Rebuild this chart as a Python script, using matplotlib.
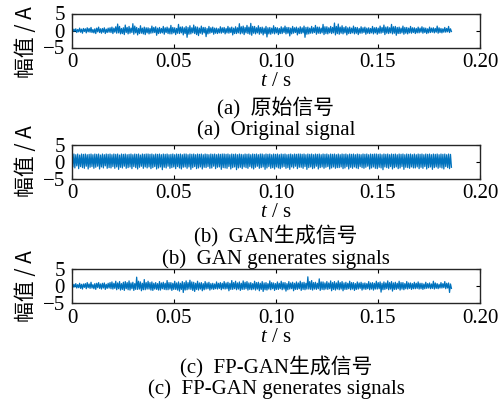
import numpy as np
import matplotlib
matplotlib.use("Agg")
import matplotlib.pyplot as plt

plt.rcParams['font.family'] = ['Liberation Serif', 'Noto Sans CJK SC']
plt.rcParams['mathtext.fontset'] = 'custom'
plt.rcParams['mathtext.it'] = 'Liberation Serif:italic'
plt.rcParams['mathtext.rm'] = 'Liberation Serif'
plt.rcParams['axes.unicode_minus'] = True

duration = 0.186
xticks = [0, 0.05, 0.10, 0.15, 0.20]
xticklabels = ['0', '0.05', '0.10', '0.15', '0.20']
yticks = [-5, 0, 5]
yticklabels = ['\u22125', '0', '5']
ylabel = '幅值 / A'
xlabel = r'$t$ / s'
captions_cn = ['(a)  原始信号', '(b)  GAN生成信号', '(c)  FP-GAN生成信号']
captions_en = ['(a)  Original signal', '(b)  GAN generates signals', '(c)  FP-GAN generates signals']

original = [
    0.1,-0.3,0.4,-0.2,0.5,-0.6,0.3,-0.4,0.7,-0.5,0.4,-0.8,0.6,-0.3,0.5,-0.7,0.8,-0.4,0.6,-0.5,0.9,-0.6,0.3,-0.7,0.5,-0.9,0.7,-0.4,1.0,-0.6,0.5,-0.8,0.6,-0.5,0.8,-0.9,0.4,-0.6,0.7,-0.5,
    0.8,-0.6,1.0,-0.9,0.7,-0.5,1.1,-0.8,1.9,-0.7,1.2,-1.0,0.6,-0.9,0.8,-1.2,1.6,-0.6,0.9,-1.0,1.2,-0.8,0.7,-0.6,2.0,-1.1,1.3,-0.7,0.9,-1.3,0.6,-0.9,1.4,-0.8,0.7,-1.0,1.0,-1.2,0.8,-0.7,
    0.8,-1.0,0.6,-0.8,1.3,-0.7,0.9,-0.6,1.1,-1.4,0.7,-0.9,0.9,-0.8,0.6,-0.7,1.2,-1.1,0.8,-0.6,1.0,-0.9,0.7,-1.0,1.5,-1.0,0.9,-0.7,0.8,-1.2,0.6,-0.8,1.8,-0.9,1.0,-0.7,1.1,-1.3,0.8,-0.9,
    1.2,-2.0,0.9,-1.1,1.4,-1.0,0.8,-0.7,1.6,-0.9,1.1,-1.2,1.0,-1.5,0.7,-0.8,1.3,-1.1,0.9,-0.7,0.9,-1.8,0.6,-1.0,1.2,-0.8,0.8,-0.6,1.0,-1.1,0.7,-0.8,0.7,-0.9,0.5,-0.7,1.1,-0.8,0.8,-0.6,
    0.9,-1.0,0.6,-0.7,1.2,-0.8,0.8,-0.6,1.0,-1.3,0.7,-0.9,1.1,-0.9,0.8,-0.7,2.0,-1.0,1.1,-0.8,1.3,-1.2,0.9,-0.7,1.5,-0.9,1.0,-1.1,2.1,-1.4,1.2,-0.8,1.2,-1.0,0.8,-0.7,1.4,-1.1,0.9,-0.8,
    1.0,-1.3,0.7,-0.9,1.2,-1.9,0.8,-1.0,0.9,-1.1,0.7,-0.8,1.4,-1.0,0.9,-0.7,0.8,-1.2,0.6,-0.9,1.1,-0.9,0.8,-0.6,1.3,-1.0,0.9,-0.8,0.9,-1.6,0.7,-1.0,1.2,-0.8,0.8,-0.6,1.0,-1.3,0.7,-0.9,
    1.1,-0.9,0.8,-0.7,1.3,-2.0,0.9,-1.1,1.0,-1.0,0.7,-0.8,1.2,-0.8,0.8,-0.6,1.5,-1.1,1.0,-0.8,1.0,-0.9,0.7,-0.7,1.8,-1.2,1.1,-0.9,1.1,-1.0,0.8,-0.7,1.2,-0.9,0.9,-0.7,2.2,-1.3,1.2,-0.9,
    1.9,-1.1,1.0,-0.8,1.4,-1.0,0.9,-0.7,1.2,-1.3,0.8,-0.9,1.0,-0.9,0.7,-0.7,1.3,-1.0,0.9,-0.8,0.9,-1.2,0.6,-0.8,1.1,-0.8,0.8,-0.6,1.0,-1.1,0.7,-0.8,0.8,-0.9,0.6,-0.7,1.2,-1.0,0.8,-0.7,
    0.9,-1.1,0.7,-0.8,1.3,-0.8,0.9,-0.6,1.6,-1.2,1.0,-0.8,1.1,-0.9,0.8,-0.7,1.8,-1.0,1.1,-0.8,1.2,-1.4,0.9,-0.9,1.0,-0.9,0.7,-0.7,1.3,-1.1,0.9,-0.8,0.9,-1.0,0.7,-0.7,1.2,-0.8,0.8,-0.6,
    0.8,-0.9,0.6,-0.7,1.0,-0.7,0.7,-0.5,1.1,-0.8,0.8,-0.6,0.7,-0.9,0.5,-0.7,1.0,-0.6,0.7,-0.5,0.8,-0.7,0.6,-0.5,1.3,-0.8,0.8,-0.6,0.6,-0.7,0.5,-0.5,0.9,-0.5,0.6,-0.4,1.2,-0.6,0.5,-0.3,
]

gan = [
    2.1,-1.6,2.2,-1.9,2.0,-1.3,2.2,-2.1,1.9,-1.5,2.2,-1.8,2.1,-2.0,2.2,-1.4,2.0,-2.2,2.1,-1.7,2.2,-1.5,2.0,-2.0,2.2,-1.7,2.1,-1.4,2.2,-2.2,1.9,-1.6,2.2,-1.9,2.0,-1.3,2.2,-2.0,2.1,-1.8,
    2.2,-1.9,2.0,-1.5,2.2,-2.0,2.1,-1.6,2.2,-2.3,1.9,-1.7,2.2,-1.9,2.1,-1.4,2.2,-2.0,2.0,-1.8,2.1,-1.6,2.2,-2.1,2.0,-1.5,2.2,-1.8,2.1,-2.2,2.2,-1.7,1.9,-1.4,2.2,-2.0,2.1,-1.6,2.2,-1.9,
    2.2,-1.6,2.1,-2.1,2.2,-1.8,2.0,-1.5,2.2,-2.2,2.1,-1.9,2.2,-1.6,2.0,-2.4,2.2,-1.7,2.1,-1.9,2.2,-1.4,2.0,-2.0,2.1,-1.8,2.2,-1.6,2.0,-2.1,2.2,-1.5,2.1,-1.9,2.2,-2.2,2.0,-1.7,2.2,-1.6,
    2.2,-2.0,2.0,-1.6,2.2,-2.3,2.1,-1.8,2.2,-1.5,2.0,-2.1,2.2,-1.9,2.1,-1.6,2.2,-2.2,2.0,-1.7,2.2,-1.8,2.1,-1.5,2.0,-2.0,2.2,-1.9,2.1,-1.4,2.2,-2.1,2.0,-1.7,2.2,-1.6,2.1,-2.3,2.2,-1.8,
    2.2,-1.9,2.1,-2.0,2.2,-1.5,2.0,-2.2,2.2,-1.8,2.1,-1.6,2.2,-2.4,2.0,-1.9,2.2,-1.7,2.1,-2.1,2.0,-1.6,2.2,-1.8,2.1,-2.0,2.2,-1.5,2.0,-1.9,2.2,-2.2,2.1,-1.7,2.2,-1.4,2.0,-2.0,2.2,-1.8,
    2.2,-1.6,2.0,-2.3,2.2,-1.9,2.1,-1.5,2.2,-2.0,2.0,-1.8,2.2,-2.2,2.1,-1.6,2.2,-1.9,2.0,-2.1,2.2,-1.7,2.1,-1.5,2.2,-2.0,2.0,-1.8,2.1,-2.3,2.2,-1.6,2.0,-1.9,2.2,-1.4,2.1,-2.1,2.2,-1.7,
    2.2,-1.7,2.1,-2.0,2.2,-1.5,2.0,-2.3,2.2,-1.8,2.1,-1.6,2.2,-2.1,2.0,-1.9,2.2,-1.4,2.1,-2.2,2.2,-1.8,2.0,-1.6,2.2,-2.0,2.1,-1.7,2.2,-1.5,2.0,-2.2,2.2,-1.9,2.1,-1.6,2.2,-2.0,2.0,-1.8,
    2.2,-1.8,2.0,-1.6,2.2,-2.1,2.1,-1.9,2.2,-1.5,2.0,-2.2,2.2,-1.7,2.1,-2.0,2.2,-1.6,2.0,-1.9,2.2,-2.1,2.1,-1.5,2.0,-1.8,2.2,-2.0,2.1,-1.7,2.2,-1.4,2.0,-2.2,2.2,-1.9,2.1,-1.6,2.2,-2.0,
    2.2,-2.1,2.1,-1.7,2.2,-1.9,2.0,-2.4,2.2,-1.6,2.1,-1.8,2.2,-2.0,2.0,-1.5,2.2,-2.2,2.1,-1.8,2.2,-1.6,2.0,-2.1,2.2,-1.9,2.1,-1.5,2.2,-2.3,2.0,-1.7,2.2,-1.8,2.1,-2.0,2.2,-1.6,2.0,-1.9,
    2.2,-1.9,2.0,-1.6,2.2,-2.1,2.1,-1.7,2.2,-2.0,2.0,-1.5,2.2,-2.2,2.1,-1.8,2.2,-1.6,2.0,-2.3,2.2,-1.8,2.1,-1.6,2.2,-2.0,2.0,-1.7,2.2,-1.9,2.1,-2.2,2.2,-1.5,2.0,-1.8,2.2,-2.1,2.1,-1.7,
]

fpgan = [
    0.2,-0.4,0.5,-0.3,0.7,-0.6,0.4,-0.5,0.8,-0.7,0.5,-0.9,0.6,-0.4,0.7,-0.8,1.0,-0.5,0.6,-0.7,1.1,-0.6,0.4,-0.8,0.7,-1.0,0.8,-0.5,1.0,-0.7,0.6,-0.9,0.8,-0.6,0.9,-1.0,0.5,-0.7,0.8,-0.6,
    1.0,-0.8,1.2,-0.9,0.8,-0.7,1.4,-1.1,0.9,-0.8,1.3,-1.2,0.7,-1.0,1.1,-1.3,1.3,-0.8,1.0,-1.1,1.5,-1.2,0.9,-0.8,1.1,-1.3,0.7,-1.0,2.6,-1.0,1.4,-0.9,1.2,-1.4,0.8,-1.1,1.9,-1.1,1.0,-0.9,
    1.4,-0.9,1.0,-1.2,1.2,-1.3,0.8,-0.9,1.0,-1.0,0.7,-1.2,1.3,-1.2,0.9,-0.8,1.1,-1.0,0.8,-1.1,1.6,-1.1,1.0,-0.9,1.0,-1.3,0.8,-1.0,1.4,-1.0,0.9,-1.2,1.2,-1.5,0.8,-1.0,1.3,-1.9,1.0,-1.2,
    1.5,-1.1,1.0,-0.9,1.7,-1.0,1.2,-1.3,1.1,-1.6,0.8,-1.0,1.4,-1.2,0.9,-0.9,1.0,-1.4,0.7,-1.1,1.3,-0.9,0.9,-0.8,1.1,-1.2,0.7,-0.9,0.8,-1.0,0.6,-0.8,1.2,-0.9,0.8,-0.7,1.0,-1.1,0.8,-0.8,
    1.3,-0.9,0.9,-0.8,1.1,-1.4,0.8,-1.0,1.6,-1.0,1.0,-0.8,1.4,-1.1,0.9,-0.9,1.2,-1.3,0.8,-1.0,1.5,-1.0,1.1,-0.8,1.3,-1.2,0.9,-1.0,1.0,-1.1,0.7,-0.9,1.4,-1.2,1.0,-0.9,1.1,-1.4,0.8,-1.0,
    1.3,-1.6,0.9,-1.1,1.0,-1.2,0.7,-0.9,1.5,-1.1,1.0,-0.8,0.9,-1.3,0.7,-1.0,1.2,-1.0,0.8,-0.8,1.4,-1.1,1.0,-0.9,1.0,-1.5,0.7,-1.1,1.3,-0.9,0.9,-0.8,1.1,-1.4,0.8,-1.0,1.2,-1.0,0.9,-0.8,
    1.4,-1.3,1.0,-1.0,1.1,-1.1,0.8,-0.9,2.7,-0.9,1.3,-1.0,1.6,-1.2,1.0,-0.9,1.1,-1.0,0.8,-0.8,2.1,-1.3,1.2,-1.0,1.2,-1.1,0.9,-0.9,1.3,-1.0,0.9,-0.8,1.5,-1.4,1.0,-1.0,1.3,-1.2,0.9,-0.9,
    1.5,-1.1,1.0,-0.9,1.3,-1.4,0.9,-1.0,1.1,-1.0,0.8,-0.8,1.4,-1.1,1.0,-0.9,1.0,-1.3,0.7,-1.0,1.2,-0.9,0.9,-0.7,1.1,-1.2,0.8,-0.9,0.9,-1.0,0.7,-0.8,1.3,-1.1,0.9,-0.9,1.0,-1.2,0.8,-0.9,
    1.4,-0.9,1.0,-0.8,1.2,-1.8,0.8,-1.1,1.2,-1.0,0.9,-0.8,1.5,-1.1,1.0,-0.9,1.3,-1.5,0.9,-1.0,1.1,-1.0,0.8,-0.8,1.4,-1.2,1.0,-0.9,1.0,-1.1,0.7,-0.8,1.3,-0.9,0.9,-0.7,0.9,-1.0,0.7,-0.8,
    1.1,-0.8,0.8,-0.7,1.2,-0.9,0.8,-0.8,0.8,-1.0,0.6,-0.8,1.1,-0.7,0.7,-0.6,0.9,-0.8,0.6,-0.7,1.4,-0.9,0.9,-0.7,0.7,-0.8,0.5,-0.6,1.0,-0.6,0.7,-0.5,1.3,-0.8,0.8,-0.6,0.9,-1.9,0.6,-0.7,
]

signals = [original, gan, fpgan]

W, H = 499, 404
fig = plt.figure(figsize=(W / 100, H / 100), dpi=100)

# axes boxes in pixels: (left, top, right, bottom)
boxes = [(72, 13.5, 480, 47.5), (72, 144.5, 480, 178.5), (72, 269, 480, 303)]
ylabel_y = [0.17, 0.5, 0.5]
cn_y = [108, 236, 367]
en_y = [130, 259, 389]

color = '#0072BD'
fs = 15

for i, (sig, box) in enumerate(zip(signals, boxes)):
    l, t, r, b = box
    ax = fig.add_axes([l / W, 1 - b / H, (r - l) / W, (b - t) / H])
    y = np.array(sig)
    x = np.linspace(0, duration, len(y))
    ax.plot(x, y, color=color, lw=0.9)
    ax.set_xlim(0, 0.2)
    ax.set_ylim(-5, 5)
    ax.set_xticks(xticks)
    ax.set_xticklabels(xticklabels, fontsize=fs)
    ax.set_yticks(yticks)
    ax.set_yticklabels(yticklabels, fontsize=fs)
    ax.tick_params(axis='x', direction='in', top=True, length=3, width=0.8, pad=4)
    ax.tick_params(axis='y', direction='in', right=True, length=3, width=0.8, pad=5)
    for s in ax.spines.values():
        s.set_linewidth(1.0)
        s.set_color('#262626')
    ax.set_xlabel(xlabel, fontsize=fs, labelpad=0)
    ax.set_ylabel(ylabel, fontsize=15, family=['Noto Sans CJK SC'])
    ax.yaxis.set_label_coords(-0.086, ylabel_y[i])
    fig.text((l + r) / 2 / W, 1 - cn_y[i] / H, captions_cn[i], fontsize=fs,
             ha='center', va='center', family=['Liberation Serif', 'Noto Sans CJK SC'])
    fig.text((l + r) / 2 / W, 1 - en_y[i] / H, captions_en[i], fontsize=fs,
             ha='center', va='center')

fig.savefig('out.png', dpi=100)
